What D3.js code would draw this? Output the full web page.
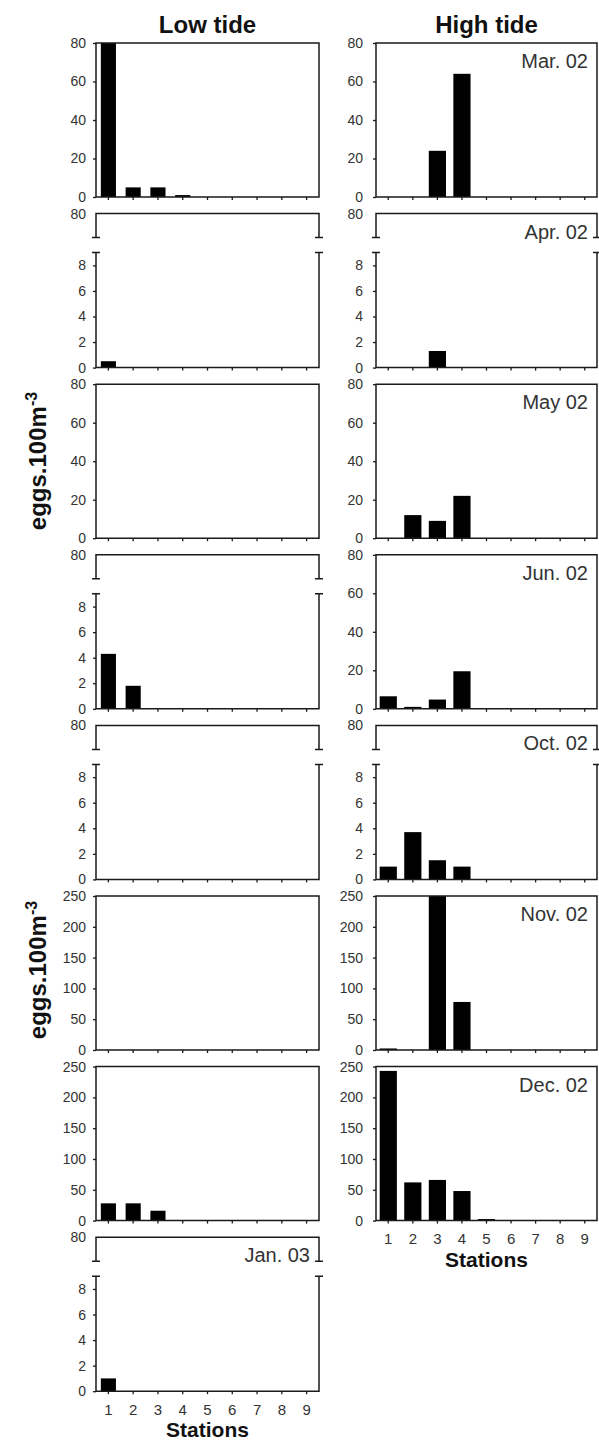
<!DOCTYPE html>
<html lang="en">
<head>
<meta charset="UTF-8">
<title>Eggs per station, low and high tide</title>
<script src="https://d3js.org/d3.v7.min.js"></script>
<style>
  body { margin: 0; background: #fff; }
  text { font-family: "Liberation Sans", Arial, sans-serif; }
</style>
</head>
<body>
<div id="chart"></div>
<script>
// stations on the x axis
const stations = [1, 2, 3, 4, 5, 6, 7, 8, 9];

// month of each row (high tide has no Jan. 03)
const months = ["Mar. 02", "Apr. 02", "May 02", "Jun. 02", "Oct. 02", "Nov. 02", "Dec. 02", "Jan. 03"];

// y scale used in each panel: "80" = 0-80, "break" = 0-9 with 80 on top, "250" = 0-250
const lowKinds  = ["80", "break", "80", "break", "break", "250", "250", "break"];
const highKinds = ["80", "break", "80", "80", "break", "250", "250"];

const ticks80 = [0, 20, 40, 60, 80];
const ticksBreak = [0, 2, 4, 6, 8];
const ticks250 = [0, 50, 100, 150, 200, 250];

// eggs.100m-3, low tide
const lowMar02 = [85, 5, 5, 1, 0, 0, 0, 0, 0];
const lowApr02 = [0.5, 0, 0, 0, 0, 0, 0, 0, 0];
const lowMay02 = [0, 0, 0, 0, 0, 0, 0, 0, 0];
const lowJun02 = [4.3, 1.8, 0, 0, 0, 0, 0, 0, 0];
const lowOct02 = [0, 0, 0, 0, 0, 0, 0, 0, 0];
const lowNov02 = [0, 0, 0, 0, 0, 0, 0, 0, 0];
const lowDec02 = [28, 28, 16, 0, 0, 0, 0, 0, 0];
const lowJan03 = [1.0, 0, 0, 0, 0, 0, 0, 0, 0];

// eggs.100m-3, high tide
const highMar02 = [0, 0, 24, 64, 0, 0, 0, 0, 0];
const highApr02 = [0, 0, 1.3, 0, 0, 0, 0, 0, 0];
const highMay02 = [0, 12, 9, 22, 0, 0, 0, 0, 0];
const highJun02 = [6.5, 1, 4.8, 19.5, 0, 0, 0, 0, 0];
const highOct02 = [1, 3.7, 1.5, 1, 0, 0, 0, 0, 0];
const highNov02 = [2.5, 0, 265, 78, 0, 0, 0, 0, 0];
const highDec02 = [243, 62, 66, 48, 2.5, 0, 0, 0, 0];

const lowTide = [lowMar02, lowApr02, lowMay02, lowJun02, lowOct02, lowNov02, lowDec02, lowJan03];
const highTide = [highMar02, highApr02, highMay02, highJun02, highOct02, highNov02, highDec02];

// layout
const W = 599, H = 1441;
const firstTop = 43, rowStep = 170.6, panelH = 154;
const upperH = 24, gapH = 15;   // broken axis pieces
const ink = "#1a1a1a", labelInk = "#333";

const columns = [
  { x0: 96, x1: 319, pad: 0.39, tickPad: 7, title: "Low tide", kinds: lowKinds, data: lowTide },
  { x0: 376, x1: 597, pad: 0.3, tickPad: 10, title: "High tide", kinds: highKinds, data: highTide }
];

const svg = d3.select("#chart").append("svg")
  .attr("width", W).attr("height", H);

function drawPanel(col, row, values, kind, showMonth, showStations) {
  const top = firstTop + row * rowStep;
  const bottom = top + panelH;
  const g = svg.append("g");

  const x = d3.scaleBand().domain(stations).range([col.x0, col.x1])
    .paddingInner(col.pad).paddingOuter(col.pad / 2);

  let y;
  if (kind === "80") y = d3.scaleLinear().domain([0, 80]).range([bottom, top]);
  else if (kind === "250") y = d3.scaleLinear().domain([0, 250]).range([bottom, top]);
  else y = d3.scaleLinear().domain([0, 9]).range([bottom, top + upperH + gapH]);
  y.clamp(true);

  // bars
  g.selectAll("rect.bar").data(values).join("rect")
    .attr("class", "bar")
    .attr("x", (d, i) => x(stations[i]))
    .attr("width", x.bandwidth())
    .attr("y", d => y(d))
    .attr("height", d => y(0) - y(d))
    .attr("fill", "#000");

  // frame
  const x0 = col.x0, x1 = col.x1;
  let frame;
  if (kind === "break") {
    const ub = top + upperH, lt = top + upperH + gapH;
    frame = `M${x0},${ub}V${top}H${x1}V${ub}` +
      `M${x0 - 4},${ub}H${x0 + 4}M${x1 - 4},${ub}H${x1 + 4}` +
      `M${x0 - 4},${lt}H${x0 + 4}M${x1 - 4},${lt}H${x1 + 4}` +
      `M${x0},${lt}V${bottom}H${x1}V${lt}`;
  } else {
    frame = `M${x0},${top}H${x1}V${bottom}H${x0}Z`;
  }
  g.append("path").attr("d", frame).attr("fill", "none")
    .attr("stroke", ink).attr("stroke-width", 1.5);

  // y axis
  const yTicks = kind === "80" ? ticks80 : kind === "250" ? ticks250 : ticksBreak;
  g.append("g").attr("transform", `translate(${x0},0)`)
    .call(d3.axisLeft(y).tickValues(yTicks).tickSize(3).tickPadding(col.tickPad));
  if (kind === "break") {
    const yUp = d3.scaleLinear().domain([70, 80]).range([top + upperH, top]);
    g.append("g").attr("transform", `translate(${x0},0)`)
      .call(d3.axisLeft(yUp).tickValues([80]).tickSize(0).tickPadding(col.tickPad + 3));
  }

  g.selectAll(".tick text").attr("font-size", 14);

  // x axis
  const xAxis = g.append("g").attr("transform", `translate(0,${bottom})`)
    .call(d3.axisBottom(x).tickSize(3).tickPadding(10)
      .tickFormat(showStations ? d => d : () => ""));
  xAxis.selectAll(".tick text").attr("font-size", 15);

  g.selectAll(".domain").remove();
  g.selectAll(".tick line").attr("stroke", ink).attr("stroke-width", 1.3);
  g.selectAll(".tick text").attr("fill", labelInk)
    .style("font-family", '"Liberation Sans", Arial, sans-serif');

  if (showStations) {
    svg.append("text")
      .attr("x", (x0 + x1) / 2).attr("y", bottom + 46)
      .attr("text-anchor", "middle").attr("font-size", 21).attr("font-weight", "bold")
      .attr("fill", "#111").text("Stations");
  }

  if (showMonth) {
    g.append("text")
      .attr("x", x1 - 9).attr("y", top + 25)
      .attr("text-anchor", "end").attr("font-size", 20)
      .attr("fill", labelInk).text(months[row]);
  }
}

columns.forEach((col, c) => {
  svg.append("text")
    .attr("x", (col.x0 + col.x1) / 2).attr("y", 33)
    .attr("text-anchor", "middle").attr("font-size", 24).attr("font-weight", "bold")
    .attr("fill", "#111").text(col.title);

  col.data.forEach((values, row) => {
    const last = row === col.data.length - 1;
    // month names sit in the high tide column, Jan. 03 only exists at low tide
    const showMonth = c === 1 || row >= columns[1].data.length;
    drawPanel(col, row, values, col.kinds[row], showMonth, last);
  });
});

// y axis titles
[461, 970].forEach(cy => {
  const t = svg.append("text")
    .attr("transform", `translate(46,${cy}) rotate(-90)`)
    .attr("text-anchor", "middle").attr("font-size", 24).attr("font-weight", "bold")
    .attr("fill", "#111");
  t.append("tspan").text("eggs.100m");
  t.append("tspan").attr("font-size", 16).attr("dy", -9).text("-3");
});
</script>
</body>
</html>
